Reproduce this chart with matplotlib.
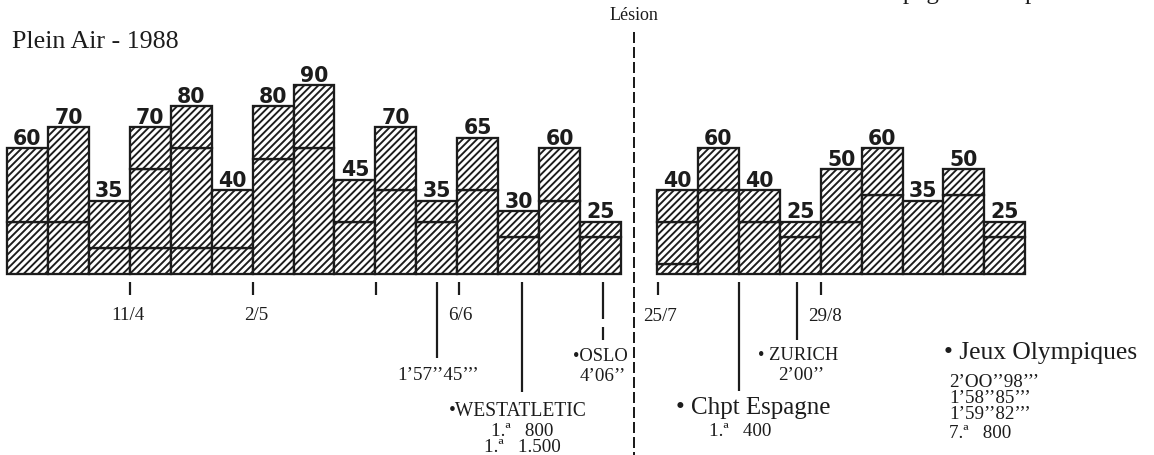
import numpy as np
import matplotlib
matplotlib.use("Agg")
import matplotlib.pyplot as plt

# ---------------- data ----------------
left_totals = [60, 70, 35, 70, 80, 40, 80, 90, 45, 70, 35, 65, 30, 60, 25]
left_divs = [[25], [25], [12.5], [12.5, 50], [12.5, 60], [12.5], [55], [60],
             [25], [40], [25], [40], [17.5], [35], [17.5]]
right_totals = [40, 60, 40, 25, 50, 60, 35, 50, 25]
right_divs = [[5, 25], [40], [25], [17.5], [25], [37.5], [], [37.5], [17.5]]

title = "Plein Air - 1988"
lesion_label = "Lésion"
date_labels = ["11/4", "2/5", "6/6", "25/7", "29/8"]

# ---------------- layout ----------------
DPI = 85
W, H = 1154, 456
INK = "#1c1c1c"
SERIF = ["Liberation Serif", "DejaVu Serif"]


def fs(px):
    return px * 72.0 / DPI


def lw(px):
    return px * 72.0 / DPI


plt.rcParams["hatch.linewidth"] = lw(1.9)
plt.rcParams["hatch.color"] = INK

fig = plt.figure(figsize=(W / DPI, H / DPI), dpi=DPI)
fig.patch.set_facecolor("white")

PITCH = 40.93      # px per bar
X0 = 7             # left edge of first bar, px
BASE = 275         # baseline, px from top
UNIT = 2.1         # px per value unit
GAP = (657 - 621) / PITCH

ax = fig.add_axes([0, 0, 1, 1])
ax.set_xlim(-0.5 - X0 / PITCH, -0.5 + (W - X0) / PITCH)
ax.set_ylim(-(H - BASE) / UNIT, BASE / UNIT)
ax.axis("off")

x_left = np.arange(len(left_totals), dtype=float)
x_right = len(left_totals) + GAP + np.arange(len(right_totals), dtype=float)


def draw_bars(xs, totals, divs):
    for x, tot, dv in zip(xs, totals, divs):
        levels = [0] + list(dv) + [tot]
        bottoms = levels[:-1]
        heights = np.diff(levels)
        ax.bar([x] * len(heights), heights, bottom=bottoms, width=1.0,
               facecolor="white", edgecolor=INK, hatch="////",
               linewidth=lw(2.3), zorder=2)
        ax.annotate(f"{tot}", (x, tot), xytext=(0, lw(4)),
                    textcoords="offset points", ha="center", va="baseline",
                    fontsize=fs(20.5), fontweight="bold",
                    family="DejaVu Sans", color=INK)


draw_bars(x_left, left_totals, left_divs)
draw_bars(x_right, right_totals, right_divs)

# ---------------- annotation overlay (pixel coords) ----------------
an = fig.add_axes([0, 0, 1, 1], zorder=5)
an.set_xlim(0, W)
an.set_ylim(H, 0)
an.axis("off")
an.patch.set_alpha(0)


def txt(x, y, s, px, ha="center", va="center"):
    an.text(x, y, s, fontsize=fs(px), family=SERIF, color=INK, ha=ha, va=va)


def vline(x, y0, y1, w=2.2):
    an.plot([x, x], [y0, y1], color=INK, lw=lw(w), solid_capstyle="butt")


# title and partial top text
txt(12, 42, title, 26, ha="left")
an.text(878, -1.5, "Espagne", fontsize=fs(25), family=SERIF, color=INK,
        ha="left", va="baseline")
an.text(1025, -1.5, "p", fontsize=fs(25), family=SERIF, color=INK,
        ha="left", va="baseline")

# lesion marker
an.plot([634, 634], [33, H], color=INK, lw=lw(2.0),
        linestyle=(0, (11 / 2.0, 4 / 2.0)))
txt(634, 15, lesion_label, 18)

# short ticks
for x in [130, 253, 376, 459, 658, 821]:
    vline(x, 283, 296)

# date labels
for (x, y), s in zip([(128, 316), (256, 316), (460, 316), (660, 317), (825, 317)],
                     date_labels):
    txt(x, y, s, 19)

# long event lines
vline(437, 283, 359)
vline(522, 283, 393)
vline(603, 283, 320)
vline(603, 328, 341)
vline(739, 283, 392)
vline(797, 283, 341)

# event texts
txt(438, 376, "1’57’’45’’’", 19)
txt(518, 412, "•WESTATLETIC", 19.5)
txt(522, 432, "1.ª   800", 19)
txt(522, 448, "1.ª   1.500", 19)
txt(600, 357, "•OSLO", 18.5)
txt(603, 377, "4’06’’", 19)
txt(753, 408, "• Chpt Espagne", 25)
txt(740, 432, "1.ª   400", 19)
txt(798, 356, "• ZURICH", 18.5)
txt(801, 376, "2’00’’", 19)
txt(944, 353, "• Jeux Olympiques", 25.5, ha="left")
txt(949, 383, "2’OO’’98’’’", 19, ha="left")
txt(949, 399, "1’58’’85’’’", 19, ha="left")
txt(949, 415, "1’59’’82’’’", 19, ha="left")
txt(949, 434, "7.ª   800", 19, ha="left")

fig.savefig("out.png", dpi=DPI, facecolor="white")
